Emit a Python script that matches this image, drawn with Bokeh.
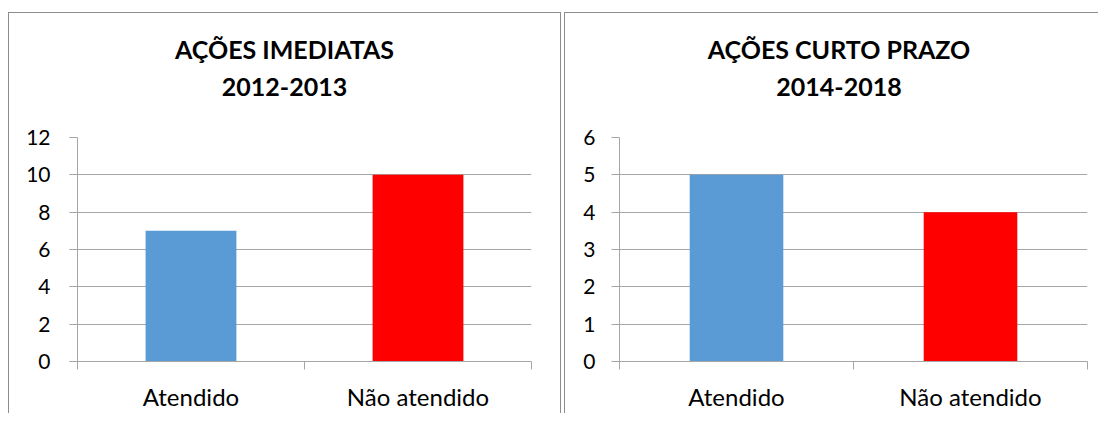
from bokeh.plotting import figure
from bokeh.models import Range1d, FixedTicker, Div, Column, Row
from bokeh.embed import file_html
from bokeh.resources import INLINE

categories = ["Atendido", "Não atendido"]
colors = ["#5B9BD5", "#FF0000"]

title1 = ["AÇÕES IMEDIATAS", "2012-2013"]
values1 = [7, 10]
yticks1 = [0, 2, 4, 6, 8, 10, 12]

title2 = ["AÇÕES CURTO PRAZO", "2014-2018"]
values2 = [5, 4]
yticks2 = [0, 1, 2, 3, 4, 5, 6]

FONT = "Lato"
GRID = "#a6a6a6"
BORDER = "1px solid #8c8c8c"


def make(titles, values, yticks, width, mbl, mbr, pad_left, ystand, borders, margin):
    n = len(categories)
    head = Div(
        text=("<div style=\"box-sizing:border-box; text-align:center; font-family:Lato; "
              "font-weight:bold; font-size:25px; line-height:37px; color:black; "
              f"padding-top:18px; padding-left:{pad_left}px; width:{width}px;\">"
              f"{titles[0]}<br>{titles[1]}</div>"),
        width=width, height=100, margin=0)

    p = figure(width=width, height=300, x_range=Range1d(0, n),
               y_range=Range1d(yticks[0], yticks[-1]),
               output_backend="svg", toolbar_location=None,
               min_border_left=mbl, min_border_right=mbr,
               min_border_bottom=50, min_border_top=24,
               outline_line_color=None, margin=0)
    xs = [i + 0.5 for i in range(n)]
    p.vbar(x=xs, top=values, width=0.4, color=colors, line_color=None)

    p.xgrid.visible = False
    p.ygrid.grid_line_color = GRID
    p.ygrid.ticker = FixedTicker(ticks=yticks)

    ya = p.yaxis[0]
    ya.ticker = FixedTicker(ticks=yticks)
    ya.axis_line_color = GRID
    ya.major_tick_line_color = GRID
    ya.major_tick_out = 8
    ya.major_tick_in = 0
    ya.minor_tick_line_color = None
    ya.major_label_standoff = ystand
    ya.major_label_text_font = FONT
    ya.major_label_text_font_size = "21px"
    ya.major_label_text_color = "black"

    xa = p.xaxis[0]
    xa.ticker = FixedTicker(ticks=xs, minor_ticks=list(range(n + 1)))
    xa.axis_line_color = GRID
    xa.major_tick_line_color = None
    xa.major_tick_out = 0
    xa.major_tick_in = 0
    xa.minor_tick_line_color = GRID
    xa.minor_tick_out = 8
    xa.minor_tick_in = 0
    xa.major_label_overrides = {x: c for x, c in zip(xs, categories)}
    xa.major_label_standoff = 12
    xa.major_label_text_font = FONT
    xa.major_label_text_font_size = "24px"
    xa.major_label_text_color = "black"

    styles = {"border-top": BORDER, "border-left": BORDER}
    if "right" in borders:
        styles["border-right"] = BORDER
    return Column(children=[head, p], spacing=0, styles=styles, margin=margin)


c1 = make(title1, values1, yticks1, 551, 68, 29, 0, 19, ["right"], (12, 0, 0, 8))
c2 = make(title2, values2, yticks2, 533, 54, 11, 15, 16, [], (12, 0, 0, 0))

layout = Row(children=[c1, c2], spacing=3)

open("out.html", "w").write(file_html(layout, INLINE))
